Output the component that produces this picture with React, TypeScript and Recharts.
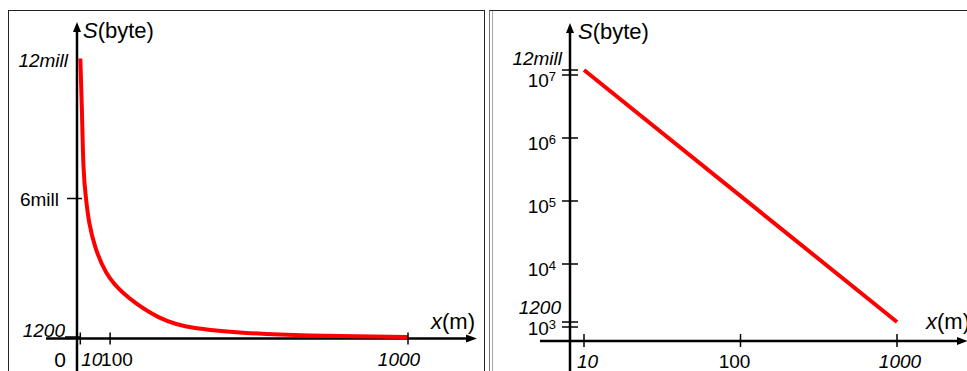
import React from 'react';
import { Line, LineChart, ReferenceDot, ReferenceLine, XAxis, YAxis } from 'recharts';

// left panel, linear axes
const leftX = [10, 15, 19, 27, 36, 54, 85, 136, 221, 305, 523, 674, 1000];
const leftS = [12000000, 9900000, 7070000, 6000000, 4930000, 3900000, 2790000, 1930000, 1070000, 470000, 210000, 130000, 60000];
const leftXTicks = [10, 100, 1000];
const leftXLabels = ['10', '100', '1000'];
const leftYTicks = [1200, 6000000, 12000000];
const leftYLabels = ['1200', '6mill', '12mill'];

// right panel, log-log axes
const rightX = [10, 1000];
const rightS = [12000000, 1200];
const rightXTicks = [10, 100, 1000];
const rightXLabels = ['10', '100', '1000'];
const rightYTicks = [1000, 1200, 10000, 100000, 1000000, 10000000, 12000000];
const rightYLabels = ['10^3', '1200', '10^4', '10^5', '10^6', '10^7', '12mill'];

const leftData = leftX.map((x, i) => ({ x, s: leftS[i] }));
const rightData = rightX.map((x, i) => ({ x, s: rightS[i] }));

const FONT = '"Liberation Sans", Arial, Helvetica, sans-serif';
const INK = '#000';
const RED = '#ff0000';
const italicLabels = new Set(['10', '1000', '1200', '12mill']);

// page geometry of the two panels
const L = { left: 8, top: 10, w: 476, h: 361, x0: 77, kx: 0.331, y0: 338.5, ky: 280 / 12000000 };
const lxDomain = [(L.left - L.x0) / L.kx, (L.left + L.w - L.x0) / L.kx];
const lyDomain = [-(L.top + L.h - L.y0) / L.ky, (L.y0 - L.top) / L.ky];

const R = { left: 489, top: 10, w: 478, h: 361, x10: 584, pxDec: 156.5, y7: 75, pyDec: 63, axisX: 570, axisY: 341 };
const rxDomain = [10 ** (1 + (R.left - R.x10) / R.pxDec), 10 ** (1 + (R.left + R.w - R.x10) / R.pxDec)];
const ryDomain = [10 ** (7 - (R.top + R.h - R.y7) / R.pyDec), 10 ** (7 + (R.y7 - R.top) / R.pyDec)];
const rCrossX = 10 ** (1 + (R.axisX - R.x10) / R.pxDec);
const rCrossY = 10 ** (7 - (R.axisY - R.y7) / R.pyDec);

function Label({ x, y, text, anchor = 'end', size = 19 }: any) {
  const pow = text.match(/^10\^(\d)$/);
  return (
    <text x={x} y={y} textAnchor={anchor} fontFamily={FONT} fontSize={size} fill={INK}
      fontStyle={italicLabels.has(text) ? 'italic' : 'normal'}>
      {pow ? (<><tspan>10</tspan><tspan fontSize={13} dy={-6}>{pow[1]}</tspan></>) : text}
    </text>
  );
}

function AxisName({ x, y, sym, unit }: any) {
  return (
    <text x={x} y={y} fontFamily={FONT} fontSize={22} fill={INK}>
      <tspan fontStyle="italic">{sym}</tspan><tspan>({unit})</tspan>
    </text>
  );
}

const hAxis = (startOff: number, endOff: number, nameDx: number, nameDy: number) => (p: any) => {
  const y = p.y1;
  const a = p.x1 + startOff;
  const b = p.x2 - endOff;
  return (
    <g>
      <line x1={a} y1={y} x2={b - 8} y2={y} stroke={INK} strokeWidth={2.5} />
      <polygon points={`${b},${y} ${b - 11},${y - 4} ${b - 11},${y + 4}`} fill={INK} />
      <AxisName x={b + nameDx} y={y + nameDy} sym="x" unit="m" />
    </g>
  );
};

const vAxis = (tipOff: number, nameDx: number) => (p: any) => {
  const x = p.x1;
  const top = Math.min(p.y1, p.y2);
  const bottom = Math.max(p.y1, p.y2);
  const tip = top + tipOff;
  return (
    <g>
      <line x1={x} y1={tip + 8} x2={x} y2={bottom} stroke={INK} strokeWidth={2.5} />
      <polygon points={`${x},${tip} ${x - 4},${tip + 10} ${x + 4},${tip + 10}`} fill={INK} />
      <AxisName x={x + nameDx} y={tip + 16} sym="S" unit="byte" />
    </g>
  );
};

const leftXPlace: Record<string, [string, number]> = { '10': ['start', 1], '100': ['start', -9], '1000': ['middle', -9] };
const rightXPlace: Record<string, [string, number]> = { '10': ['start', -7], '100': ['middle', -6], '1000': ['middle', 3] };

const xTick = (label: string, place: [string, number], up: number, down: number, dy: number) => (p: any) => (
  <g>
    <line x1={p.cx} y1={p.cy - up} x2={p.cx} y2={p.cy + down} stroke={INK} strokeWidth={1.5} />
    <Label x={p.cx + place[1]} y={p.cy + dy} text={label} anchor={place[0]} />
  </g>
);

const leftYTick = (label: string) => (p: any) => {
  if (label === '12mill') return <g><Label x={p.cx - 9} y={p.cy + 8} text={label} /></g>;
  if (label === '1200') return (
    <g>
      <line x1={p.cx - 12} y1={p.cy - 1.5} x2={p.cx + 3} y2={p.cy - 1.5} stroke={INK} strokeWidth={1.5} />
      <Label x={p.cx - 12} y={p.cy - 1.5} text={label} />
    </g>
  );
  return (
    <g>
      <line x1={p.cx - 10} y1={p.cy} x2={p.cx + 5} y2={p.cy} stroke={INK} strokeWidth={1.5} />
      <Label x={p.cx - 18} y={p.cy + 7} text={label} />
    </g>
  );
};

const rightYTick = (label: string) => (p: any) => {
  let lx = p.cx - 14;
  let ly = p.cy + 12;
  if (label === '10^3') ly = p.cy + 8;
  if (label === '12mill') { lx = p.cx - 8; ly = p.cy - 5; }
  if (label === '1200') { lx = p.cx - 9; ly = p.cy - 8; }
  return (
    <g>
      <line x1={p.cx - 8} y1={p.cy} x2={p.cx + 8} y2={p.cy} stroke={INK} strokeWidth={1.5} />
      <Label x={lx} y={ly} text={label} />
    </g>
  );
};

const noMargin = { top: 0, right: 0, bottom: 0, left: 0 };

export default function App() {
  return (
    <div style={{ position: 'relative', width: 967, height: 371, overflow: 'hidden', background: '#fff' }}>
      <style>{'body{margin:0;background:#fff}'}</style>
      <div style={{ position: 'absolute', left: L.left, top: L.top, width: L.w - 1, height: L.h + 2, borderLeft: '1px solid #222', borderTop: '1px solid #222', borderRight: '1px solid #222' }} />
      <div style={{ position: 'absolute', left: R.left, top: R.top, width: R.w + 2, height: R.h + 2, borderLeft: '1px solid #777', borderTop: '1px solid #222' }} />
      <div style={{ position: 'absolute', left: R.left + 3, top: R.top + 1, width: 1, height: R.h, background: '#aaa' }} />

      <div style={{ position: 'absolute', left: L.left, top: L.top }}>
        <LineChart width={L.w} height={L.h} data={leftData} margin={noMargin}>
          <XAxis type="number" dataKey="x" domain={lxDomain} allowDataOverflow hide />
          <YAxis type="number" domain={lyDomain} allowDataOverflow hide />
          <ReferenceLine y={0} ifOverflow="visible" shape={hAxis(38, 7, -46, -10)} />
          <ReferenceLine x={0} ifOverflow="visible" shape={vAxis(12, 6)} />
          {leftXTicks.map((v, i) => (
            <ReferenceDot key={'lx' + v} x={v} y={0} r={0} ifOverflow="visible"
              shape={xTick(leftXLabels[i], leftXPlace[leftXLabels[i]], 6, 6, 27.5)} />
          ))}
          {leftYTicks.map((v, i) => (
            <ReferenceDot key={'ly' + v} x={0} y={v} r={0} ifOverflow="visible" shape={leftYTick(leftYLabels[i])} />
          ))}
          <ReferenceDot x={0} y={0} r={0} ifOverflow="visible"
            shape={(p: any) => <g><Label x={p.cx - 11} y={p.cy + 28.5} text="0" size={21} /></g>} />
          <Line type="basis" dataKey="s" stroke={RED} strokeWidth={4} dot={false} isAnimationActive={false} />
        </LineChart>
      </div>

      <div style={{ position: 'absolute', left: R.left, top: R.top }}>
        <LineChart width={R.w} height={R.h} data={rightData} margin={noMargin}>
          <XAxis type="number" dataKey="x" scale="log" domain={rxDomain} allowDataOverflow hide />
          <YAxis type="number" scale="log" domain={ryDomain} allowDataOverflow hide />
          <ReferenceLine y={rCrossY} ifOverflow="visible" shape={hAxis(51, -1, -42, -12)} />
          <ReferenceLine x={rCrossX} ifOverflow="visible" shape={vAxis(13, 8)} />
          {rightXTicks.map((v, i) => (
            <ReferenceDot key={'rx' + v} x={v} y={rCrossY} r={0} ifOverflow="visible"
              shape={xTick(rightXLabels[i], rightXPlace[rightXLabels[i]], 7, 6, 26.5)} />
          ))}
          {rightYTicks.map((v, i) => (
            <ReferenceDot key={'ry' + v} x={rCrossX} y={v} r={0} ifOverflow="visible" shape={rightYTick(rightYLabels[i])} />
          ))}
          <Line type="linear" dataKey="s" stroke={RED} strokeWidth={4} dot={false} isAnimationActive={false} />
        </LineChart>
      </div>
    </div>
  );
}
